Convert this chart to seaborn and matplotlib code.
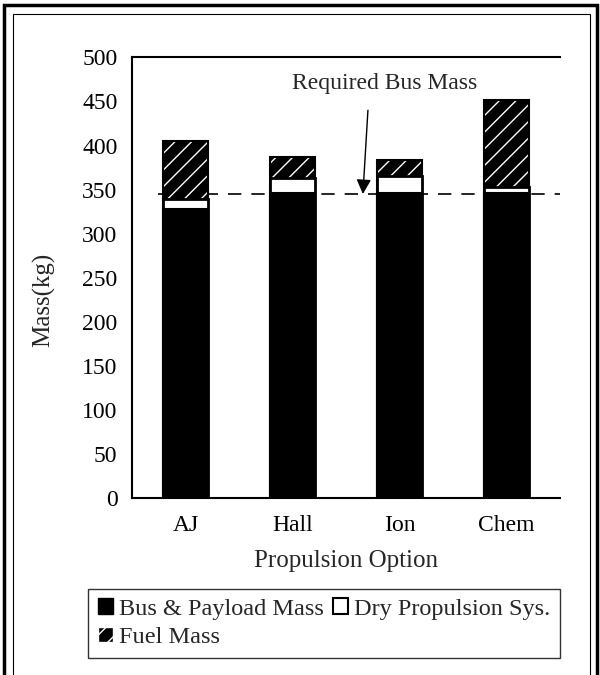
"""Massenbilanz je Antriebsoption als gestapeltes Balkendiagramm."""

import matplotlib

matplotlib.use("Agg")

import matplotlib.pyplot as plt
import pandas as pd
import seaborn as sns
from matplotlib.patches import Patch, Rectangle

# Daten
options = ["AJ", "Hall", "Ion", "Chem"]
bus_mass = [328, 346, 346, 346]
dry_prop = [11, 17, 19, 7]
fuel_mass = [66, 24, 19, 99]
required_bus = 345

sns.set_theme(style="white")
plt.rcParams["font.family"] = ["Liberation Serif", "DejaVu Serif"]
plt.rcParams["hatch.linewidth"] = 1.0

df = pd.DataFrame({"option": options, "bus": bus_mass, "dry": dry_prop, "fuel": fuel_mass})
df["bus_dry"] = df["bus"] + df["dry"]
df["total"] = df["bus_dry"] + df["fuel"]

fig = plt.figure(figsize=(6, 6.75), dpi=100)
ax = fig.add_axes([0.22, 0.262, 0.713, 0.653])

# Hintergrundrahmen (doppelt)
fig.patches.append(Rectangle((0.007, -0.05), 0.988, 1.042, transform=fig.transFigure,
                             fill=False, edgecolor="black", linewidth=2.5))
fig.patches.append(Rectangle((0.022, -0.05), 0.962, 1.03, transform=fig.transFigure,
                             fill=False, edgecolor="black", linewidth=0.8))

# Soll-Linie
ax.hlines(required_bus, -0.26, 3.5, colors="black", linestyles=(0, (8, 6)), linewidth=1.2, zorder=1)

w = 0.425
# Kraftstoff (gesamt, schraffiert)
sns.barplot(data=df, x="option", y="total", color="black", width=w, edgecolor="white",
            hatch="//", linewidth=0, saturation=1, ax=ax, zorder=2)
sns.barplot(data=df, x="option", y="total", color="black", width=w, fill=False,
            linewidth=1.5, ax=ax, zorder=3)
# Trockenmasse Antrieb
sns.barplot(data=df, x="option", y="bus_dry", color="white", width=w, edgecolor="black",
            linewidth=2, saturation=1, ax=ax, zorder=4)
# Bus & Nutzlast
sns.barplot(data=df, x="option", y="bus", color="black", width=w, edgecolor="black",
            linewidth=1.5, saturation=1, ax=ax, zorder=5)

ax.set_xlim(-0.5, 3.5)
ax.set_ylim(0, 500)
ax.set_yticks(range(0, 501, 50))
ax.set_xlabel("Propulsion Option", fontsize=18, labelpad=10)
ax.set_ylabel("Mass(kg)", fontsize=18)
ax.yaxis.set_label_coords(-0.18, 0.45)
ax.tick_params(axis="y", direction="inout", length=7, width=1, labelsize=17, pad=7, colors="black")
ax.tick_params(axis="x", length=0, labelsize=17, pad=12, colors="black")
for side in ["left", "bottom", "top"]:
    ax.spines[side].set_color("black")
    ax.spines[side].set_linewidth(1.5)
ax.spines["right"].set_visible(False)

ax.text(1.86, 470, "Required Bus Mass", ha="center", va="center", fontsize=17)
ax.annotate("", xy=(1.659, required_bus), xytext=(1.706, 440),
            arrowprops=dict(arrowstyle="-|>", color="black", lw=1, mutation_scale=22,
                            shrinkA=0, shrinkB=0))

handles = [
    Patch(facecolor="black", edgecolor="black", label="Bus & Payload Mass"),
    Patch(facecolor="black", edgecolor="white", hatch="//", label="Fuel Mass"),
    Patch(facecolor="white", edgecolor="black", linewidth=1.5, label="Dry Propulsion Sys."),
]
leg = fig.legend(handles=handles, ncol=2, loc="upper left", bbox_to_anchor=(0.147, 0.128),
                 fontsize=17.5, frameon=True, fancybox=False, edgecolor="black",
                 handlelength=0.6, handleheight=0.6, handletextpad=0.25, columnspacing=0.4,
                 borderpad=0.4, labelspacing=0.3, borderaxespad=0)
leg.get_frame().set_linewidth(1.0)

fig.savefig("out.png", dpi=100)
